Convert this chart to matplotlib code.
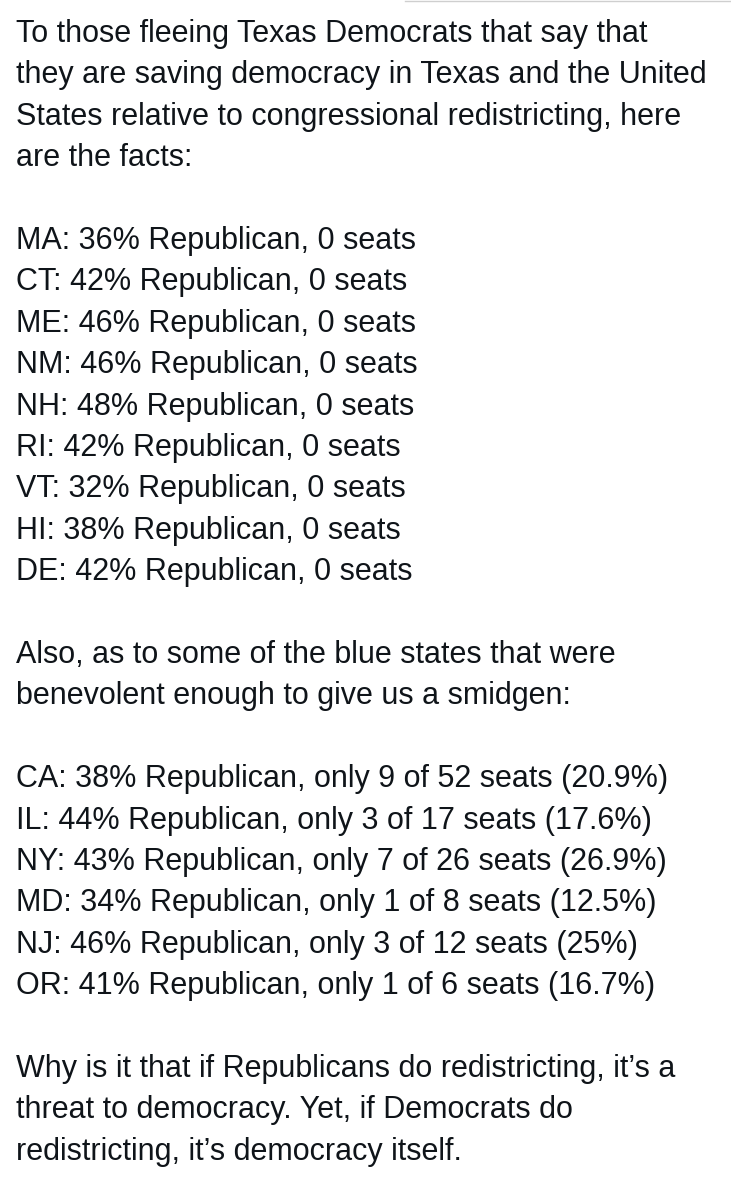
import matplotlib.pyplot as plt

intro = [
    "To those fleeing Texas Democrats that say that",
    "they are saving democracy in Texas and the United",
    "States relative to congressional redistricting, here",
    "are the facts:",
]
zero_states = ["MA", "CT", "ME", "NM", "NH", "RI", "VT", "HI", "DE"]
zero_pct = [36, 42, 46, 46, 48, 42, 32, 38, 42]

also = [
    "Also, as to some of the blue states that were",
    "benevolent enough to give us a smidgen:",
]
blue_states = ["CA", "IL", "NY", "MD", "NJ", "OR"]
blue_pct = [38, 44, 43, 34, 46, 41]
blue_won = [9, 3, 7, 1, 3, 1]
blue_total = [52, 17, 26, 8, 12, 6]
blue_share = ["20.9%", "17.6%", "26.9%", "12.5%", "25%", "16.7%"]

outro = [
    "Why is it that if Republicans do redistricting, it\u2019s a",
    "threat to democracy. Yet, if Democrats do",
    "redistricting, it\u2019s democracy itself.",
]

lines = list(intro) + [""]
for s, p in zip(zero_states, zero_pct):
    lines.append(f"{s}: {p}% Republican, 0 seats")
lines += [""] + also + [""]
for s, p, w, t, sh in zip(blue_states, blue_pct, blue_won, blue_total, blue_share):
    lines.append(f"{s}: {p}% Republican, only {w} of {t} seats ({sh})")
lines += [""] + outro

W, H = 731, 1200
fig = plt.figure(figsize=(W / 100, H / 100), dpi=100)
fig.patch.set_facecolor("white")
ax = fig.add_axes([0, 0, 1, 1])
ax.set_xlim(0, W)
ax.set_ylim(H, 0)
ax.set_axis_off()

# thin border line along the top right
ax.plot([405, W], [1, 1], color="#cfcfcf", lw=1)

y0, step = 34, 41.4
for i, line in enumerate(lines):
    if line:
        ax.text(16, y0 + i * step, line, fontsize=22, family="Liberation Sans",
                color="#0f1419", va="center", ha="left")

fig.savefig("out.png", dpi=100)
